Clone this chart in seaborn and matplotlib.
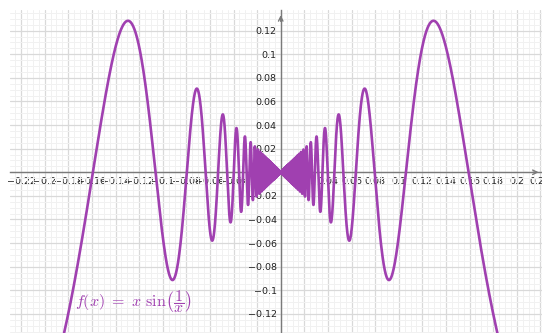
import numpy as np
import pandas as pd
import matplotlib
matplotlib.use("Agg")
import matplotlib.pyplot as plt
from matplotlib.ticker import MultipleLocator, FixedLocator, FuncFormatter
import seaborn as sns

# Plotted function f(x) = x sin(1/x), sampled densely so the oscillations near 0 fill in
x_min, x_max = -0.2294, 0.2214
y_min, y_max = -0.1362, 0.1375
x_vals = np.linspace(x_min, x_max, 600001)
x_vals = x_vals[x_vals != 0]
y_vals = x_vals * np.sin(1.0 / x_vals)

# Tick values shown on the two axes
x_ticks = [-0.22, -0.2, -0.18, -0.16, -0.14, -0.12, -0.1, -0.08, -0.06, -0.04, -0.02,
           0.02, 0.04, 0.06, 0.08, 0.1, 0.12, 0.14, 0.16, 0.18, 0.2, 0.22]
y_ticks = [-0.12, -0.1, -0.08, -0.06, -0.04, -0.02, 0.02, 0.04, 0.06, 0.08, 0.1, 0.12]

curve_color = "#A040B0"
axis_color = "#7a7a7a"

sns.set_theme(style="white")
plt.rcParams["mathtext.fontset"] = "cm"

fig = plt.figure(figsize=(5.42, 3.33), dpi=100)
ax = fig.add_axes([10 / 542, 0, 532 / 542, 323 / 333])

df = pd.DataFrame({"x": x_vals, "y": y_vals})
sns.lineplot(data=df, x="x", y="y", estimator=None, sort=False, color=curve_color,
             linewidth=1.9, ax=ax, zorder=2)

ax.set_xlim(x_min, x_max)
ax.set_ylim(y_min, y_max)
ax.set_xlabel("")
ax.set_ylabel("")

# Grid: major every 0.02, minor every 0.005
ax.xaxis.set_major_locator(FixedLocator(x_ticks + [0.0]))
ax.yaxis.set_major_locator(FixedLocator(y_ticks + [0.0]))
ax.xaxis.set_minor_locator(MultipleLocator(0.005))
ax.yaxis.set_minor_locator(MultipleLocator(0.005))
ax.grid(which="major", color="#d9d9d9", linewidth=0.9, zorder=0)
ax.grid(which="minor", color="#f1f1f1", linewidth=0.7, zorder=0)
ax.set_axisbelow(True)


def fmt(v, pos=None):
    if abs(v) < 1e-9:
        return ""
    s = f"{v:.2f}".rstrip("0").rstrip(".")
    return s.replace("-", "\u2212")


ax.xaxis.set_major_formatter(FuncFormatter(fmt))
ax.yaxis.set_major_formatter(FuncFormatter(fmt))

# Axes through the origin
for side in ("top", "right"):
    ax.spines[side].set_visible(False)
ax.spines["left"].set_position(("data", 0))
ax.spines["bottom"].set_position(("data", 0))
for side in ("left", "bottom"):
    ax.spines[side].set_color(axis_color)
    ax.spines[side].set_linewidth(1.0)
    ax.spines[side].set_zorder(1.5)

ax.tick_params(axis="both", which="both", length=0, labelsize=6.8, labelcolor="#222222")
ax.tick_params(axis="x", pad=3.5)
ax.tick_params(axis="y", pad=3)
for lbl in ax.get_xticklabels() + ax.get_yticklabels():
    lbl.set_clip_on(False)

# Arrow heads at the positive ends of the axes
ax.annotate("", xy=(0, y_max - 0.002), xytext=(0, y_max - 0.012),
            arrowprops=dict(arrowstyle="->", color=axis_color, lw=1.0,
                            mutation_scale=8), annotation_clip=False)
ax.annotate("", xy=(x_max - 0.0005, 0), xytext=(x_max - 0.01, 0),
            arrowprops=dict(arrowstyle="->", color=axis_color, lw=1.0,
                            mutation_scale=8), annotation_clip=False)

# Function label
ax.text(-0.1745, -0.1095, r"$f(x)\ =\ x\ \sin\!\left(\dfrac{1}{x}\right)$",
        color=curve_color, fontsize=11.5, ha="left", va="center", zorder=4)

fig.savefig("out.png", dpi=100)
